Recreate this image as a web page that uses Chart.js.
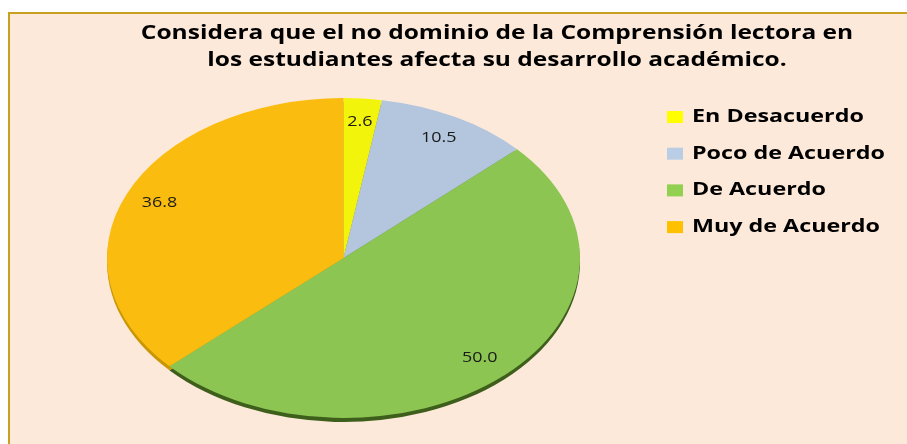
<!DOCTYPE html>
<html>
<head>
<meta charset="utf-8">
<script src="https://cdn.jsdelivr.net/npm/chart.js@4.4.0/dist/chart.umd.min.js"></script>
<style>
  html, body { margin: 0; padding: 0; background: #fff; overflow: hidden; }
  #wrap { width: 907px; height: 444px; }
</style>
</head>
<body>
<div id="wrap"><canvas id="chart" width="907" height="444"></canvas></div>
<script>
const titleLines = ["Considera que el no dominio de la Comprensión lectora en", "los estudiantes afecta su desarrollo académico."];
const categories = ["En Desacuerdo", "Poco de Acuerdo", "De Acuerdo", "Muy de Acuerdo"];
const values = [2.6, 10.5, 50.0, 36.8];
const sliceColors = ["#F3F40C", "#B3C6DD", "#8DC552", "#FABC0F"];
const legendColors = ["#FFFF00", "#B9CDE5", "#92D050", "#FFC000"];
const rimColors = ["#8C8C00", "#6F7F92", "#3E5E1C", "#C99606"];

// draw text stretched horizontally, like the old Excel picture
function wideText(ctx, text, x, y, sx, align) {
    ctx.save();
    ctx.translate(x, y);
    ctx.scale(sx, 1);
    ctx.textAlign = align || 'left';
    ctx.fillText(text, 0, 0);
    ctx.restore();
}

const excelLook = {
    id: 'excelLook',
    beforeDraw(chart) {
        const ctx = chart.ctx;
        ctx.save();
        ctx.fillStyle = '#FFFFFF';
        ctx.fillRect(0, 0, chart.width, chart.height);
        ctx.fillStyle = '#FDE9D9';
        ctx.fillRect(9, 13, chart.width, chart.height);
        ctx.strokeStyle = '#C9A11F';
        ctx.lineWidth = 2;
        ctx.beginPath();
        ctx.moveTo(9, chart.height + 2);
        ctx.lineTo(9, 13);
        ctx.lineTo(chart.width + 2, 13);
        ctx.stroke();
        ctx.restore();
    },
    beforeDatasetsDraw(chart) {
        const ctx = chart.ctx;
        const area = chart.chartArea;
        const arcs = chart.getDatasetMeta(0).data;
        const cx = arcs[0].x, cy = arcs[0].y, r = arcs[0].outerRadius;
        const sx = area.width / 2 / r, sy = area.height / 2 / r;
        // dark edge under the pie (3D thickness)
        ctx.save();
        ctx.translate(cx, cy + 4);
        ctx.scale(sx, sy);
        arcs.forEach((arc, i) => {
            ctx.beginPath();
            ctx.moveTo(0, 0);
            ctx.arc(0, 0, r, arc.startAngle, arc.endAngle);
            ctx.closePath();
            ctx.fillStyle = rimColors[i];
            ctx.fill();
        });
        ctx.restore();
        ctx.save();
        ctx.translate(cx, cy);
        ctx.scale(sx, sy);
        ctx.translate(-cx, -cy);
    },
    afterDatasetsDraw(chart) {
        const ctx = chart.ctx;
        ctx.restore();
        const area = chart.chartArea;
        const arcs = chart.getDatasetMeta(0).data;
        const rx = area.width / 2, ry = area.height / 2;
        ctx.save();
        ctx.font = '14px "Open Sans"';
        ctx.fillStyle = '#1A1A1A';
        ctx.textBaseline = 'middle';
        arcs.forEach((arc, i) => {
            const mid = (arc.startAngle + arc.endAngle) / 2;
            const x = arc.x + Math.cos(mid) * rx * 0.85;
            const y = arc.y + Math.sin(mid) * ry * 0.85;
            wideText(ctx, values[i].toFixed(1), x, y, 1.28, 'center');
        });
        ctx.restore();
    },
    afterDraw(chart) {
        const ctx = chart.ctx;
        ctx.save();
        ctx.fillStyle = '#000000';
        ctx.textBaseline = 'middle';
        ctx.font = 'bold 19px "Open Sans"';
        titleLines.forEach((line, i) => {
            wideText(ctx, line, 497, 34 + i * 27, 1.29, 'center');
        });
        ctx.font = 'bold 17px "Open Sans"';
        categories.forEach((cat, i) => {
            const y = 117 + i * 36.7;
            ctx.fillStyle = legendColors[i];
            ctx.fillRect(667, y - 6, 16, 12);
            ctx.fillStyle = '#000000';
            wideText(ctx, cat, 692, y, 1.37, 'left');
        });
        ctx.restore();
    }
};

new Chart(document.getElementById('chart'), {
    type: 'pie',
    data: {
        labels: categories,
        datasets: [{
            data: values,
            backgroundColor: sliceColors,
            borderWidth: 0
        }]
    },
    options: {
        responsive: false,
        animation: false,
        layout: {
            padding: { left: 107, right: 327, top: 98, bottom: 26 }
        },
        plugins: {
            legend: { display: false },
            title: { display: false },
            tooltip: { enabled: false }
        }
    },
    plugins: [excelLook]
});
</script>
</body>
</html>
